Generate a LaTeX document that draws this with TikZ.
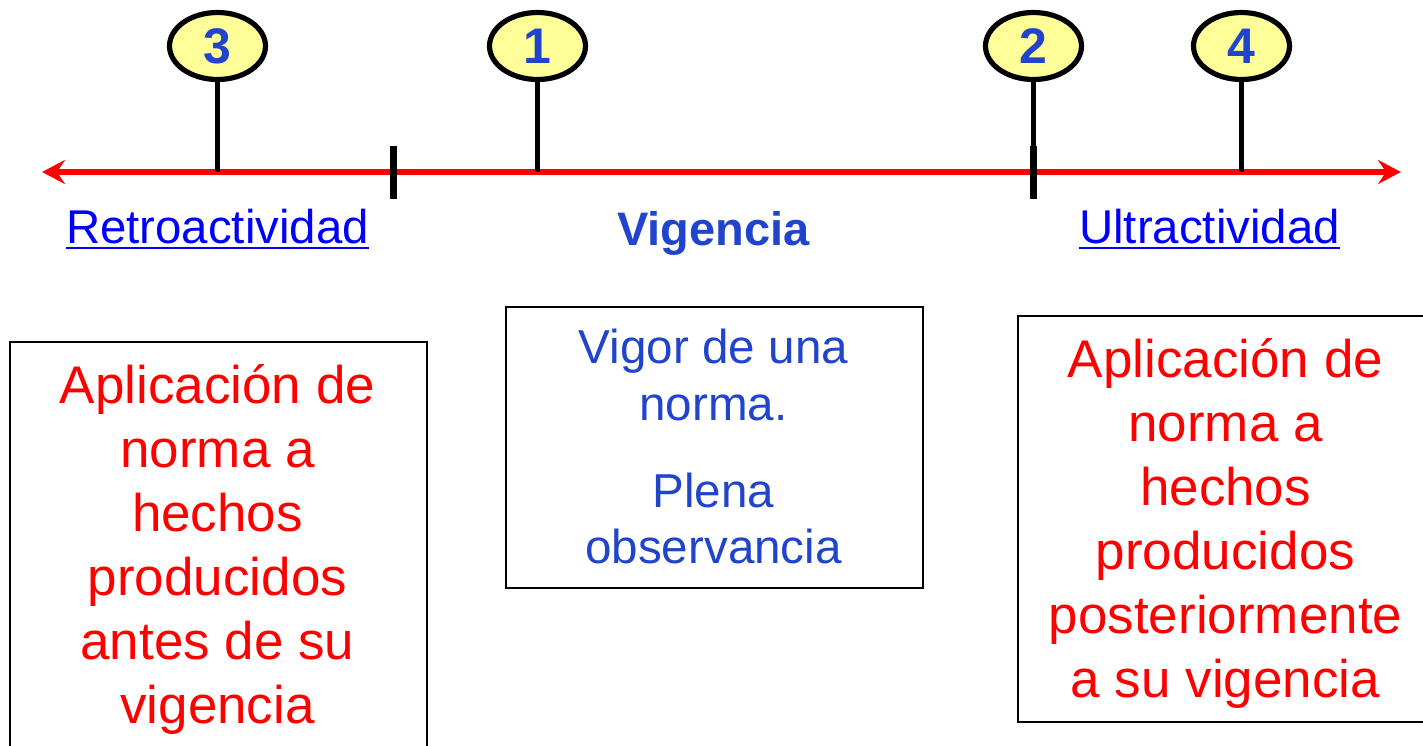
\documentclass[tikz,border=0pt]{standalone}
\usepackage{fontspec}
\setmainfont{Liberation Sans}
\usetikzlibrary{arrows.meta,shapes.geometric}
\definecolor{tred}{RGB}{255,0,0}
\definecolor{linkblue}{RGB}{0,0,255}
\definecolor{dblue}{RGB}{32,68,204}
\definecolor{pinfill}{RGB}{255,255,153}
\begin{document}
\begin{tikzpicture}[x=0.5pt,y=-0.5pt,
  pinhead/.style={ellipse, draw=black, fill=pinfill, line width=2.6pt,
    minimum width=48pt, minimum height=33.5pt, inner sep=0pt,
    text=dblue, font=\fontsize{25}{29}\selectfont\bfseries},
  stem/.style={line width=2.5pt, black},
  tickmark/.style={line width=3.5pt, black},
  timeline/.style={tred, line width=3pt,
    {Stealth[length=11.5pt,width=12pt,inset=4pt]}-{Stealth[length=11.5pt,width=12pt,inset=4pt]}},
  lbltxt/.style={inner sep=0pt, anchor=base, font=\fontsize{23.7}{28}\selectfont},
  boxframe/.style={draw=black, line width=1pt, inner sep=0pt, anchor=north west},
  redtxt/.style={inner sep=0pt, anchor=base, text=tred, font=\fontsize{26.5}{32}\selectfont},
  bluetxt/.style={inner sep=0pt, anchor=base, text=dblue, font=\fontsize{23.8}{28}\selectfont}]
\useasboundingbox (0,0) rectangle (1423,745);
% timeline
\coordinate (L) at (42,172);
\coordinate (R) at (1401,172);
\draw[timeline] (L) -- (R);
% pins
\node[pinhead] (p3) at (217.5,46) {3};
\node[pinhead] (p1) at (537.5,46) {1};
\node[pinhead] (p2) at (1033.5,46) {2};
\node[pinhead] (p4) at (1241.5,46) {4};
\coordinate (s3) at (217.5,172);
\coordinate (s1) at (537.5,172);
\coordinate (s2) at (1033.5,146);
\coordinate (s4) at (1241.5,172);
\draw[stem] (p3.south) -- (s3);
\draw[stem] (p1.south) -- (s1);
\draw[stem] (p2.south) -- (s2);
\draw[stem] (p4.south) -- (s4);
% ticks
\coordinate (t1a) at (393,146);
\coordinate (t1b) at (393,199);
\coordinate (t2a) at (1033.5,146);
\coordinate (t2b) at (1033.5,199);
\draw[tickmark] (t1a) -- (t1b);
\draw[tickmark] (t2a) -- (t2b);
% labels
\node[lbltxt, text=linkblue] (retro) at (217.5,243) {Retroactividad};
\draw[linkblue, line width=1.2pt] ([yshift=-2.6pt]retro.base west) -- ([yshift=-2.6pt]retro.base east);
\node[lbltxt, text=dblue, font=\fontsize{23.5}{28}\selectfont\bfseries] (vig) at (713.5,245) {Vigencia};
\node[lbltxt, text=linkblue] (ultra) at (1209.5,243) {Ultractividad};
\draw[linkblue, line width=1.2pt] ([yshift=-2.6pt]ultra.base west) -- ([yshift=-2.6pt]ultra.base east);
% boxes
\node[boxframe, minimum width=208.5pt, minimum height=219.5pt] (boxL) at (9,341) {};
\node[boxframe, minimum width=208.5pt, minimum height=140.5pt] (boxM) at (505,306) {};
\node[boxframe, minimum width=211.5pt, minimum height=203pt] (boxR) at (1017,315) {};
% box texts
\foreach \t [count=\i] in {Aplicación de, norma a, hechos, producidos, antes de su, vigencia}
  \node[redtxt] (bl\i) at (217.5,{403+64*(\i-1)}) {\t};
\foreach \t [count=\i] in {Aplicación de, norma a, hechos, producidos, posteriormente, a su vigencia}
  \node[redtxt] (br\i) at (1225.5,{377+64*(\i-1)}) {\t};
\node[bluetxt] (bm1) at (713.5,363) {Vigor de una};
\node[bluetxt] (bm2) at (713.5,420) {norma.};
\node[bluetxt] (bm3) at (713.5,507) {Plena};
\node[bluetxt] (bm4) at (713.5,563) {observancia};
\end{tikzpicture}
\end{document}
